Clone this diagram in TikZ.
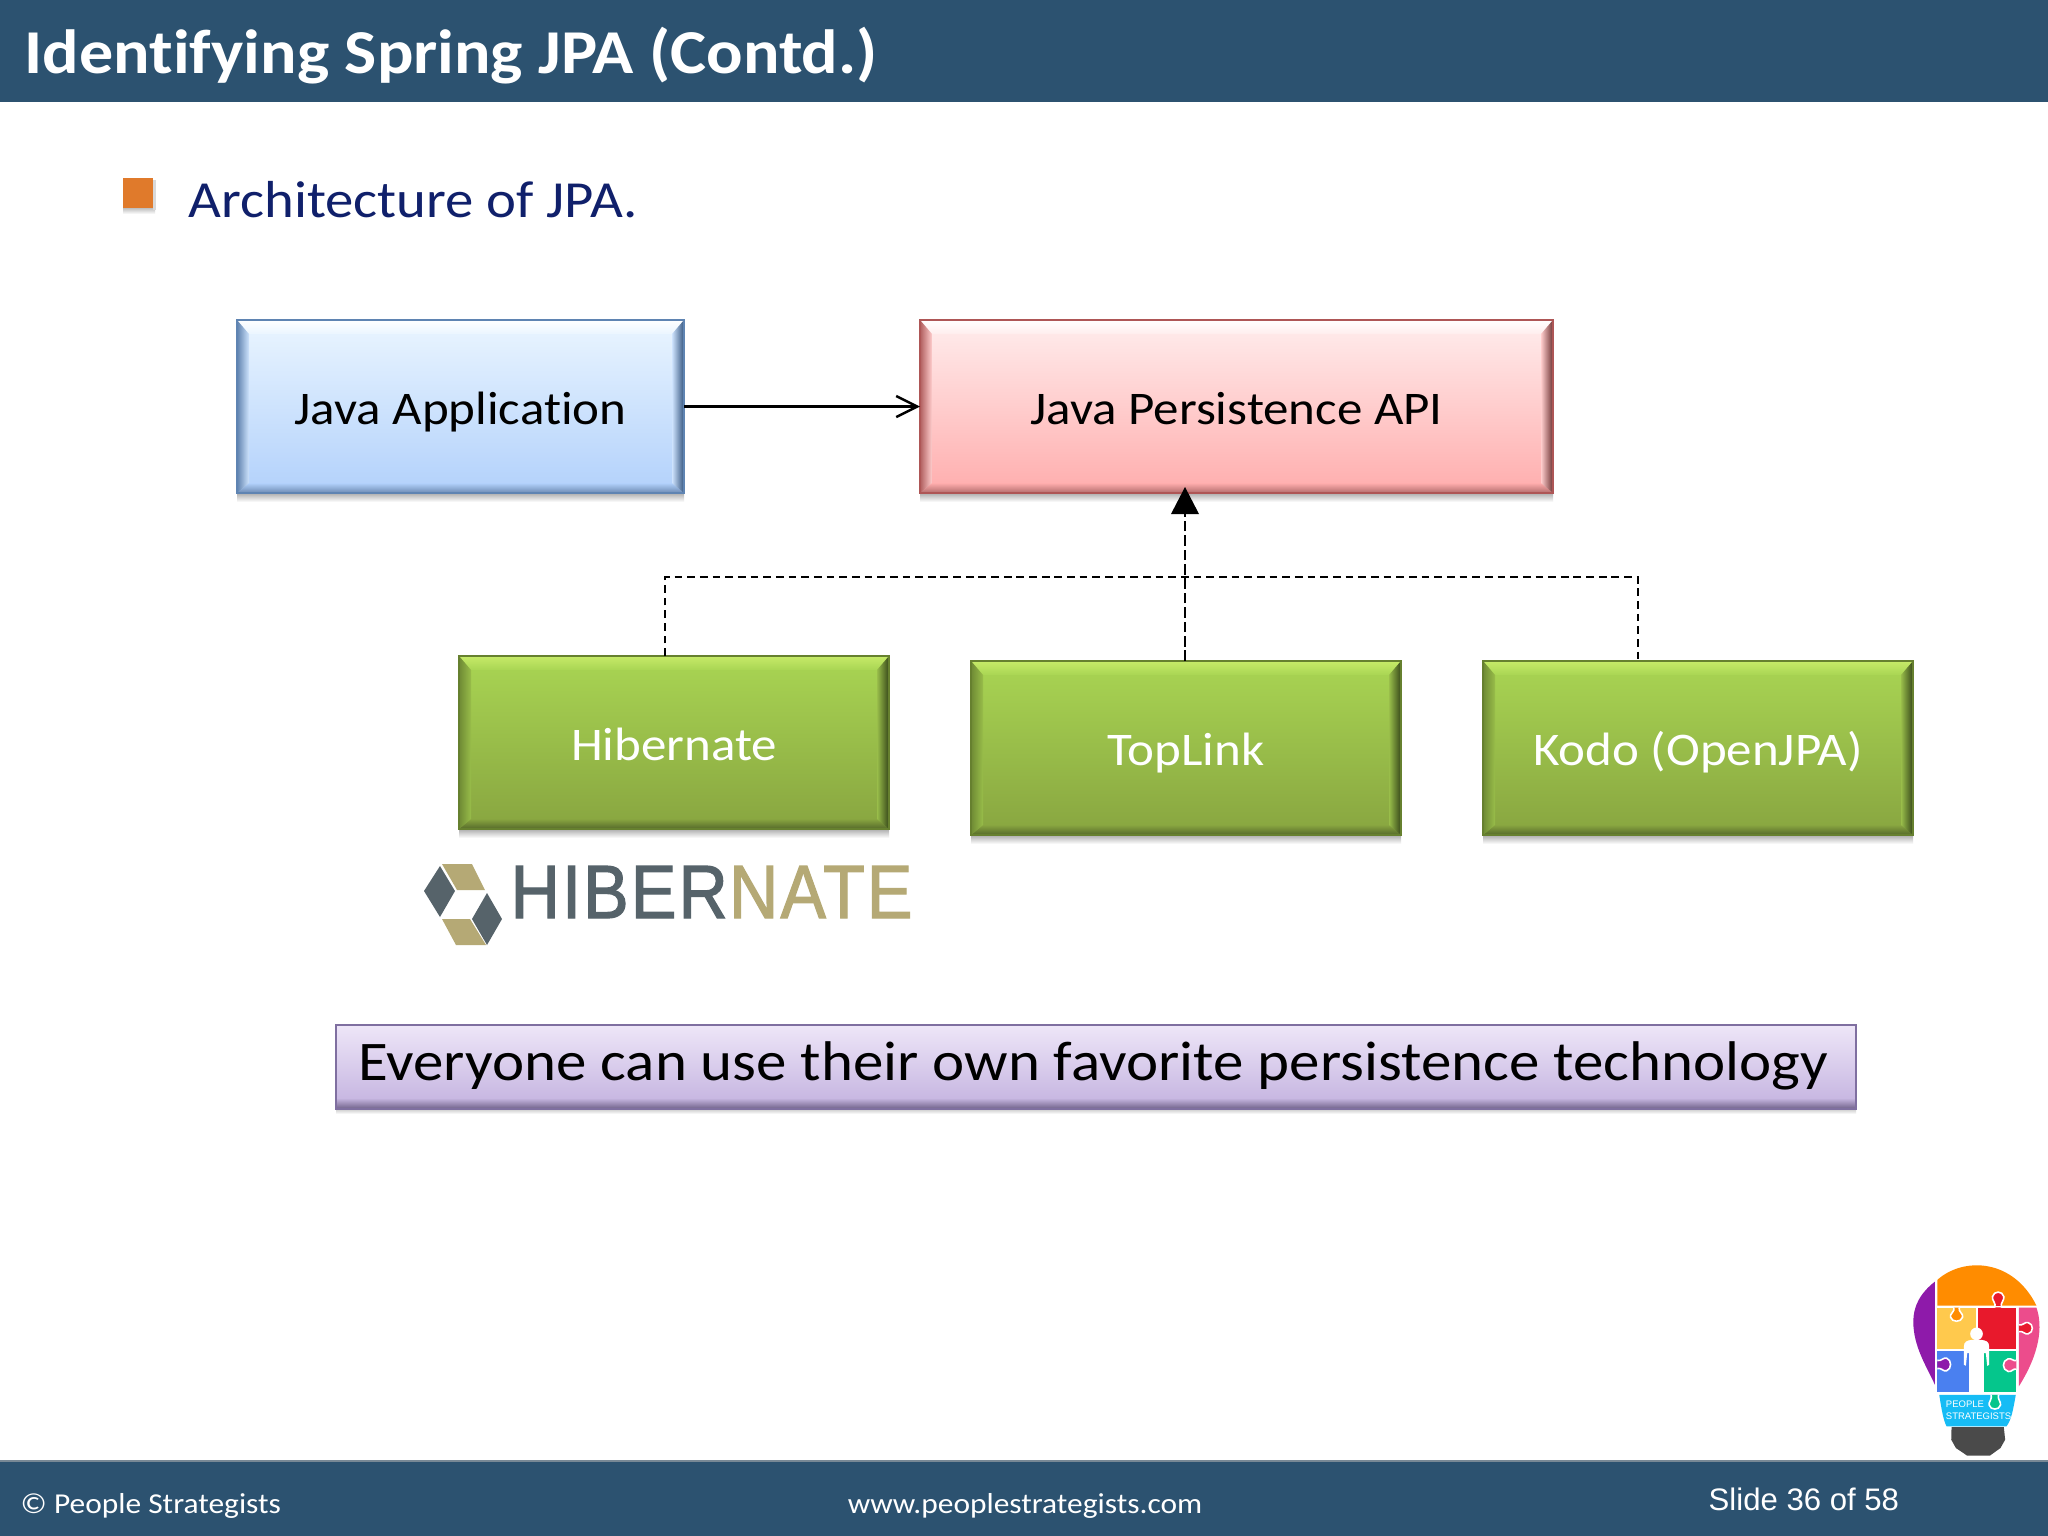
\documentclass[tikz,border=0pt]{standalone}
\usepackage{fontspec}
\setmainfont[FakeStretch=1.09,Ligatures=NoCommon]{Carlito}
\newfontfamily\arialf{Liberation Sans}
\newfontfamily\logof[FakeBold=1.6,FakeStretch=0.9,LetterSpace=3]{Liberation Sans}
\usetikzlibrary{arrows.meta}
\definecolor{barcol}{HTML}{2C5270}
\definecolor{navytext}{HTML}{10206B}
\definecolor{logotan}{HTML}{B5A975}
\definecolor{logodark}{HTML}{56636A}
\definecolor{bulletcol}{HTML}{E07A2B}
% bulb
\definecolor{bpurple}{HTML}{8E1AAA}\definecolor{borange}{HTML}{FF8C00}\definecolor{byellow}{HTML}{FFC94D}
\definecolor{bred}{HTML}{E8192C}\definecolor{bpink}{HTML}{EC4C8C}\definecolor{bblue}{HTML}{4A80F0}
\definecolor{bgreen}{HTML}{05C68C}\definecolor{bcyan}{HTML}{16BCF5}\definecolor{bbase}{HTML}{4A4A4A}
% blue
\definecolor{bluet}{HTML}{EAF5FF}\definecolor{blueb}{HTML}{B2D1FB}\definecolor{bluee}{HTML}{5F84B2}
\definecolor{bluel}{HTML}{FFFFFF}\definecolor{blued}{HTML}{6C8AB2}\definecolor{bluer}{HTML}{34557F}\definecolor{blues}{HTML}{5F82AE}
% red
\definecolor{redt}{HTML}{FFEDED}\definecolor{redb}{HTML}{FFADAD}\definecolor{rede}{HTML}{AE5656}
\definecolor{redl}{HTML}{FFFFFF}\definecolor{redd}{HTML}{B26C6C}\definecolor{redr}{HTML}{6E3434}\definecolor{reds}{HTML}{B05E5E}
% green
\definecolor{greent}{HTML}{A9D553}\definecolor{greenb}{HTML}{88A540}\definecolor{greene}{HTML}{66802F}
\definecolor{greenl}{HTML}{C6EA68}\definecolor{greend}{HTML}{55692A}\definecolor{greenr}{HTML}{37481A}\definecolor{greens}{HTML}{6E8A34}
% note
\definecolor{notet}{HTML}{EEE6F8}\definecolor{noteb}{HTML}{C8B8E2}\definecolor{notee}{HTML}{7F6FA0}\definecolor{noted}{HTML}{6F6088}
\tikzset{
  x=0.01cm,y=-0.01cm,
  boxtext/.style={inner sep=0pt,outer sep=0pt,align=center,text height=13pt,text depth=3pt},
  bluebox/.style={boxtext,text=black,font=\fontsize{13.3}{16}\selectfont},
  redbox/.style={boxtext,text=black,font=\fontsize{13.3}{16}\selectfont},
  greenbox/.style={boxtext,text=white,font=\fontsize{13.3}{16}\selectfont},
  conn/.style={black,line width=0.7pt},
  dashconn/.style={black,line width=0.55pt,dash pattern=on 2.2pt off 1.4pt},
  dashmain/.style={black,line width=0.7pt,dash pattern=on 3pt off 1.1pt},
  foot/.style={text=white,inner sep=0pt,font=\fontsize{8.2}{10}\selectfont},
  knob/.style={draw=white,line width=0.45pt},
}
% name x1 y1 x2 y2 colourprefix text
\newcommand{\bevbox}[7]{%
  \pgfmathsetmacro{\xa}{#2}\pgfmathsetmacro{\ya}{#3}\pgfmathsetmacro{\xb}{#4}\pgfmathsetmacro{\yb}{#5}%
  \pgfmathsetmacro{\xm}{(#2+#4)/2}\pgfmathsetmacro{\ym}{(#3+#5)/2}%
  \pgfmathsetmacro{\xi}{#2+12}\pgfmathsetmacro{\xj}{#4-12}\pgfmathsetmacro{\yi}{#3+14}\pgfmathsetmacro{\yj}{#5-10}%
  \shade[top color=black!32,bottom color=white] (\xa,\yb) rectangle (\xb,\yb+9);
  \shade[top color=#6t,bottom color=#6b] (\xa,\ya) rectangle (\xb,\yb);
  \shade[top color=#6l,bottom color=#6t] (\xa,\ya) -- (\xb,\ya) -- (\xj,\yi) -- (\xi,\yi) -- cycle;
  \shade[top color=#6b,bottom color=#6d] (\xa,\yb) -- (\xb,\yb) -- (\xj,\yj) -- (\xi,\yj) -- cycle;
  \shade[left color=#6s,right color=#6t!50!#6b] (\xa,\ya) -- (\xi,\yi) -- (\xi,\yj) -- (\xa,\yb) -- cycle;
  \shade[left color=#6t!50!#6b,right color=#6r] (\xb,\ya) -- (\xj,\yi) -- (\xj,\yj) -- (\xb,\yb) -- cycle;
  \draw[#6e,line width=0.6pt] (\xa,\ya) rectangle (\xb,\yb);
  \node[#6box,minimum width={(#4-#2)*0.01cm},minimum height={(#5-#3)*0.01cm}] (#1) at (\xm,\ym) {#7};
}
\begin{document}
\begin{tikzpicture}
\useasboundingbox (0,0) rectangle (2048,1536);
\fill[white] (0,0) rectangle (2048,1536);
% header
\fill[barcol] (0,0) rectangle (2048,102);
\node[anchor=base west,inner sep=0pt,text=white,font=\fontsize{17.75}{20}\selectfont\bfseries] (title) at (24,73) {Identifying Spring JPA (Contd.)};
% bullet
\shade[top color=black!25,bottom color=white] (123,208) rectangle (155,214);
\fill[black!15] (153,180) rectangle (156,210);
\fill[bulletcol] (123,178) rectangle (153,208);
\node[anchor=base west,inner sep=0pt,text=navytext,font=\fontsize{14.8}{18}\selectfont] (bullet) at (188,217) {Architecture of JPA.};
% boxes
\bevbox{java}{237}{320}{684}{493}{blue}{Java Application}
\bevbox{jpa}{920}{320}{1553}{493}{red}{Java Persistence API}
\bevbox{hib}{459}{656}{889}{829}{green}{Hibernate}
\bevbox{top}{971}{661}{1401}{835}{green}{TopLink}
\bevbox{kodo}{1483}{661}{1913}{835}{green}{Kodo (OpenJPA)}
% connectors
\coordinate (busL) at (665,577);
\coordinate (busR) at (1638,577);
\coordinate (tipJ) at (1185,487);
\coordinate (barJ) at (1185,514);
\draw[conn,-{Straight Barb[length=6pt,width=6pt]}] (java.east) -- (jpa.west);
\draw[dashconn] (busL |- hib.north) -- (busL) -- (busR) -- (busR |- kodo.north);
\draw[dashmain] (barJ |- top.north) -- (barJ);
\fill[black] (tipJ) -- (1199,514) -- (1171,514) -- cycle;
% hibernate logo
\fill[logodark] (424,891) -- (440,866) -- (455,891) -- (440,917) -- cycle;
\fill[logodark] (472,919) -- (487,893) -- (502,919) -- (487,945) -- cycle;
\fill[logotan] (442,864) -- (472,864) -- (485,890) -- (457,890) -- cycle;
\fill[logotan] (442,919) -- (470,919) -- (486,945) -- (456,945) -- cycle;
\node[anchor=base west,inner sep=0pt,text=logodark,font=\fontsize{21.5}{24}\selectfont\logof] (logoa) at (510,918) {HIBER};
\node[anchor=base west,inner sep=0pt,text=logotan,font=\fontsize{21.5}{24}\selectfont\logof] (logob) at (logoa.base east) {NATE};
% note
\shade[top color=black!20,bottom color=white] (336,1109) rectangle (1856,1114);
\shade[top color=notet,bottom color=noteb] (336,1025) rectangle (1856,1098);
\shade[top color=noteb,bottom color=noted] (336,1098) rectangle (1856,1109);
\draw[notee,line width=0.7pt] (336,1025) rectangle (1856,1109);
\node[anchor=base,inner sep=0pt,text=black,font=\fontsize{15.9}{18}\selectfont] (note) at (1093,1080) {Everyone can use their own favorite persistence technology};
% footer
\fill[barcol] (0,1461) rectangle (2048,1536);
\draw[black!30!barcol!60!white,line width=0.4pt] (0,1461) -- (2048,1461);
\node[foot,anchor=base west] (fa) at (20,1513) {© People Strategists};
\node[foot,anchor=base] (fb) at (1025,1513) {www.peoplestrategists.com};
\node[foot,anchor=base west,font=\fontsize{8.85}{10}\selectfont\arialf] (fc) at (1708,1510) {Slide 36 of 58};
% bulb logo
\begin{scope}[shift={(1880,1240)},x=0.003333cm,y=-0.003333cm]
\fill[bbase] (215,562) -- (372,562) -- (376,600) -- (362,625) -- (330,648) -- (262,648) -- (228,625) -- (214,600) -- cycle;
\fill[bcyan] (178,465) -- (408,465) .. controls (400,510) and (395,540) .. (380,560) -- (200,560) .. controls (190,540) and (185,510) .. (178,465) -- cycle;
\fill[bpurple] (165,125) .. controls (120,160) and (100,200) .. (100,245) .. controls (100,320) and (140,380) .. (165,435) -- cycle;
\fill[borange] (172,120) .. controls (250,50) and (400,55) .. (470,197) -- (172,197) -- cycle;
\fill[byellow] (172,203) -- (288,203) -- (288,327) -- (172,327) -- cycle;
\fill[bred] (295,203) -- (410,203) -- (410,327) -- (295,327) -- cycle;
\fill[bpink] (417,203) -- (470,203) .. controls (490,260) and (480,340) .. (417,440) -- cycle;
\fill[bblue] (172,333) -- (268,333) -- (268,458) -- (172,458) -- cycle;
\fill[bgreen] (312,333) -- (410,333) -- (410,458) -- (312,458) -- cycle;
% puzzle knobs
\path[fill=bred,knob] (345,203) .. controls (350,190) and (335,180) .. (338,170) .. controls (342,152) and (368,152) .. (372,170) .. controls (375,180) and (360,190) .. (365,203);
\path[fill=borange,knob] (222,203) .. controls (226,215) and (208,222) .. (212,232) .. controls (216,248) and (244,248) .. (248,232) .. controls (252,222) and (234,215) .. (238,203);
\path[fill=bred,knob] (417,255) .. controls (430,258) and (435,245) .. (445,248) .. controls (462,252) and (462,278) .. (445,282) .. controls (435,285) and (430,272) .. (417,275);
\path[fill=bpurple,knob] (172,362) .. controls (185,365) and (190,352) .. (200,355) .. controls (216,360) and (216,388) .. (200,393) .. controls (190,396) and (185,383) .. (172,386);
\path[fill=bpink,knob] (410,362) .. controls (400,365) and (395,354) .. (385,357) .. controls (366,362) and (366,390) .. (385,395) .. controls (395,398) and (400,385) .. (410,388);
\path[fill=bgreen,knob] (334,465) .. controls (338,478) and (325,488) .. (328,496) .. controls (332,512) and (358,512) .. (362,496) .. controls (365,488) and (352,478) .. (356,465);
% white separators
\draw[white,line width=0.45pt] (172,200) -- (470,200) (172,330) -- (410,330) (172,461) -- (410,461);
% person
\fill[white] (268,320) rectangle (312,458);
\fill[white] (252,320) .. controls (252,305) and (262,302) .. (275,300) -- (305,300) .. controls (318,302) and (328,305) .. (328,320) -- (328,375) -- (322,378) -- (318,340) -- (262,340) -- (258,378) -- (252,375) -- cycle;
\fill[white] (290,282) circle[radius=19];
\node[inner sep=0pt,text=white,align=left,anchor=west,font=\fontsize{2.7}{3.3}\selectfont\arialf] (ps) at (196,512) {PEOPLE\\STRATEGISTS};
\end{scope}
\end{tikzpicture}
\end{document}
